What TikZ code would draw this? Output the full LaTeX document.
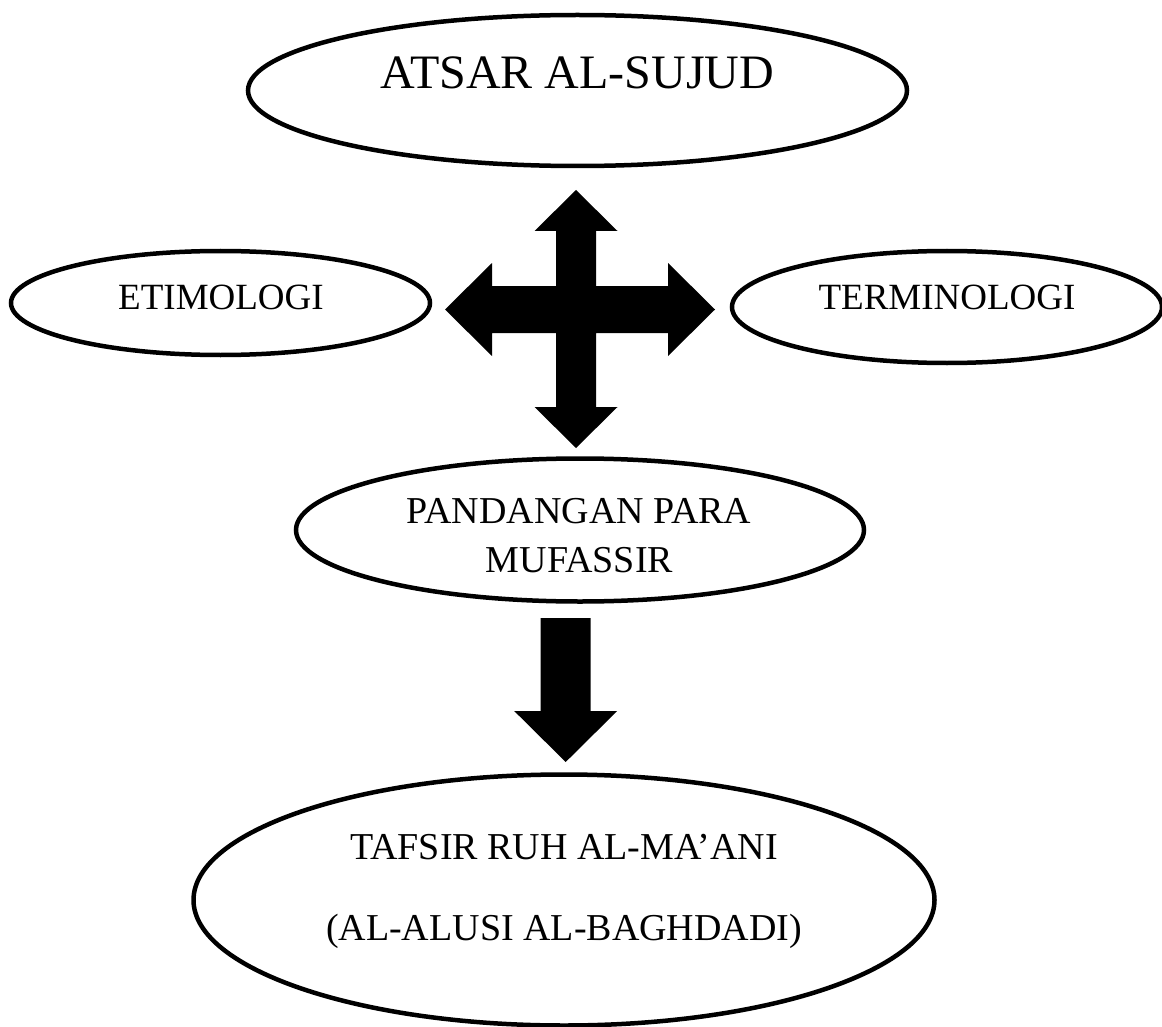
\documentclass[tikz,border=0pt]{standalone}
\usepackage{fontspec}
\setmainfont{Liberation Serif}
\usetikzlibrary{shapes.geometric}

\tikzset{
  oval/.style={draw, ellipse, line width=4.5pt, inner sep=0pt},
  caption/.style={anchor=base, inner sep=0pt, font=\fontsize{38}{46}\selectfont},
  blockarrow/.style={fill=black}
}

\begin{document}
\begin{tikzpicture}[x=1pt, y=-1pt]
    \clip (0,0) rectangle (1162,1027);
    % ellipses
    \node[oval, minimum width=659, minimum height=151] (atsar) at (577.5,90.5) {};
    \node[oval, minimum width=419, minimum height=104] (etimologi) at (220.5,303) {};
    \node[oval, minimum width=430, minimum height=112] (terminologi) at (947,307) {};
    \node[oval, minimum width=568, minimum height=143] (pandangan) at (580,530) {};
    \node[oval, minimum width=741, minimum height=251] (tafsir) at (564,900) {};
    % texts
    \node[caption, font=\fontsize{48}{58}\selectfont] (atsarT) at (577.5,89) {ATSAR AL-SUJUD};
    \node[caption, font=\fontsize{37}{44}\selectfont] (etimologiT) at (221,309) {ETIMOLOGI};
    \node[caption, font=\fontsize{37}{44}\selectfont] (terminologiT) at (947,309) {TERMINOLOGI};
    \node[caption] (pandanganT) at (579,523) {PANDANGAN PARA};
    \node[caption] (mufassirT) at (579.5,572) {MUFASSIR};
    \node[caption] (tafsirT) at (564,859) {TAFSIR RUH AL-MA’ANI};
    \node[caption] (alusiT) at (564,940) {(AL-ALUSI AL-BAGHDADI)};
    % four-way arrow
    \coordinate (cross) at (576,309.5);
    \fill[blockarrow, shift={(cross)}]
        (0,-119.5) -- (41.5,-78.5) -- (20,-78.5) -- (20,-23.5) -- (92,-23.5)
        -- (92,-46.5) -- (139,0) -- (92,46.5) -- (92,23.5) -- (20,23.5)
        -- (20,97.5) -- (41.5,97.5) -- (0,138.5) -- (-41.5,97.5) -- (-20,97.5)
        -- (-20,23.5) -- (-84,23.5) -- (-84,46.5) -- (-131,0) -- (-84,-46.5)
        -- (-84,-23.5) -- (-20,-23.5) -- (-20,-78.5) -- (-41.5,-78.5) -- cycle;
    % down arrow
    \coordinate (down) at (565.7,618);
    \fill[blockarrow, shift={(down)}]
        (-25,0) -- (25,0) -- (25,93) -- (51.5,93) -- (0,144) -- (-51.5,93)
        -- (-25,93) -- cycle;
\end{tikzpicture}
\end{document}
